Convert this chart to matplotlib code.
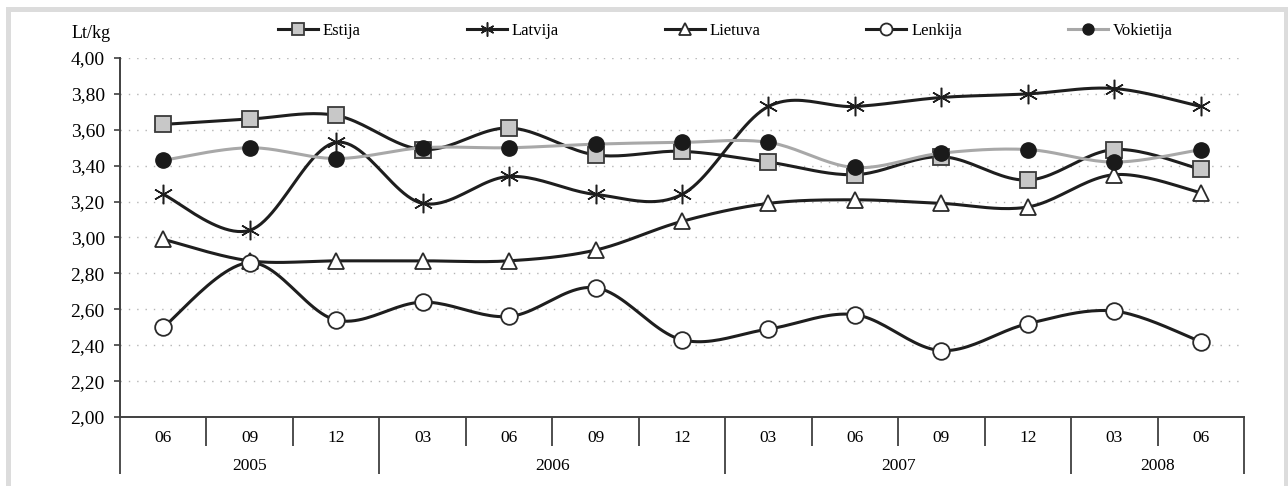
import numpy as np
import matplotlib
matplotlib.use("Agg")
import matplotlib.pyplot as plt
from matplotlib import transforms
from matplotlib.lines import Line2D
from matplotlib.patches import Rectangle

plt.rcParams['font.family'] = ['Liberation Serif', 'DejaVu Serif']

# ---- data ----
months = ['06', '09', '12', '03', '06', '09', '12', '03', '06', '09', '12', '03', '06']
year_labels = ['2005', '2006', '2007', '2008']
year_counts = [3, 4, 4, 2]

estija = [3.63, 3.66, 3.68, 3.49, 3.61, 3.46, 3.48, 3.42, 3.35, 3.45, 3.32, 3.49, 3.38]
latvija = [3.24, 3.04, 3.53, 3.19, 3.34, 3.24, 3.24, 3.73, 3.73, 3.78, 3.80, 3.83, 3.73]
lietuva = [2.99, 2.87, 2.87, 2.87, 2.87, 2.93, 3.09, 3.19, 3.21, 3.19, 3.17, 3.35, 3.25]
lenkija = [2.50, 2.86, 2.54, 2.64, 2.56, 2.72, 2.43, 2.49, 2.57, 2.37, 2.52, 2.59, 2.42]
vokietija = [3.43, 3.50, 3.44, 3.50, 3.50, 3.52, 3.53, 3.53, 3.39, 3.47, 3.49, 3.42, 3.49]

series_names = ['Estija', 'Latvija', 'Lietuva', 'Lenkija', 'Vokietija']
yticks = [2.0, 2.2, 2.4, 2.6, 2.8, 3.0, 3.2, 3.4, 3.6, 3.8, 4.0]


def smooth(xs, ys, n=24):
    P = np.column_stack([xs, ys]).astype(float)
    P = np.vstack([P[0], P, P[-1]])
    out = []
    t = np.linspace(0, 1, n)[:, None]
    for i in range(1, len(P) - 2):
        p0, p1, p2, p3 = P[i - 1], P[i], P[i + 1], P[i + 2]
        c1 = p1 + (p2 - p0) / 6.0
        c2 = p2 - (p3 - p1) / 6.0
        seg = (1 - t) ** 3 * p1 + 3 * (1 - t) ** 2 * t * c1 + 3 * (1 - t) * t ** 2 * c2 + t ** 3 * p2
        out.append(seg if i == 1 else seg[1:])
    return np.vstack(out)


W, H = 1288, 486
fig = plt.figure(figsize=(W / 100, H / 100), dpi=100)
fig.patch.set_facecolor('white')

# outer light-grey frame
fig.add_artist(Rectangle((7.5 / W, -0.2), (1286 - 7.5) / W, 1.2 - 8.5 / H,
                         transform=fig.transFigure, fill=False,
                         edgecolor='#dcdcdc', lw=3.6))

ax = fig.add_axes([120 / W, 1 - 417 / H, (1244 - 120) / W, (417 - 58) / H])
ax.set_facecolor('none')

x = np.arange(len(months))
styles = {
    'Estija': dict(color='#1e1e1e', lw=2.2, marker='s', ms=11.5, mfc='#c8c8c8', mec='#3a3a3a', mew=1.3),
    'Latvija': dict(color='#1e1e1e', lw=2.2, marker=(6, 2, 0), ms=14, mfc='none', mec='#1e1e1e', mew=1.1),
    'Lietuva': dict(color='#1e1e1e', lw=2.2, marker='^', ms=12, mfc='white', mec='#2a2a2a', mew=1.3),
    'Lenkija': dict(color='#1e1e1e', lw=2.2, marker='o', ms=12, mfc='white', mec='#2a2a2a', mew=1.3),
    'Vokietija': dict(color='#a8a8a8', lw=2.2, marker='o', ms=11, mfc='#1a1a1a', mec='#1a1a1a', mew=1.0),
}
data = [estija, latvija, lietuva, lenkija, vokietija]

z = 3
handles = []
for name, vals in zip(series_names, data):
    st = styles[name]
    curve = smooth(x, vals)
    ax.plot(curve[:, 0], curve[:, 1], color=st['color'], lw=st['lw'],
            solid_capstyle='round', zorder=z, clip_on=False)
    ax.plot(x, vals, linestyle='none', marker=st['marker'], ms=st['ms'],
            mfc=st['mfc'], mec=st['mec'], mew=st['mew'], zorder=z + 0.5, clip_on=False)
    z += 1
    handles.append(Line2D([0], [0], color=st['color'], lw=st['lw'], marker=st['marker'],
                          ms=st['ms'] * 0.72, mfc=st['mfc'], mec=st['mec'], mew=st['mew']))

ax.set_xlim(-0.5, len(months) - 0.5)
ax.set_ylim(2.0, 4.0)
ax.set_yticks(yticks)
ax.set_yticklabels([f"{v:.2f}".replace('.', ',') for v in yticks], fontsize=14)
ax.tick_params(axis='y', direction='out', length=4, width=1.2, color='#404040', pad=7)
ax.set_xticks([])
ax.yaxis.grid(True, linestyle=(0, (1, 5)), color='#b4b4b4', lw=1.0)
ax.set_axisbelow(True)
for s in ['top', 'right']:
    ax.spines[s].set_visible(False)
for s in ['left', 'bottom']:
    ax.spines[s].set_color('#404040')
    ax.spines[s].set_linewidth(1.4)

# two-level category axis
axh = 417 - 58
tr = transforms.blended_transform_factory(ax.transData, ax.transAxes)
short = 29 / axh
long_ = 57 / axh
for i, m in enumerate(months):
    ax.text(i, -21 / axh, m, transform=tr, ha='center', va='center', fontsize=12.5)
year_edges = np.concatenate([[0], np.cumsum(year_counts)]) - 0.5
for b in np.arange(len(months) + 1) - 0.5:
    is_year = np.any(np.isclose(year_edges, b))
    ax.plot([b, b], [0, -(long_ if is_year else short)], transform=tr,
            color='#404040', lw=1.3, clip_on=False, solid_capstyle='butt')
for k, yl in enumerate(year_labels):
    c = (year_edges[k] + year_edges[k + 1]) / 2
    ax.text(c, -49 / axh, yl, transform=tr, ha='center', va='center', fontsize=12.5)

fig.text(72 / W, 1 - 34 / H, 'Lt/kg', ha='left', va='center', fontsize=13)

leg = fig.legend(handles, series_names, ncol=5, loc='center left',
                 bbox_to_anchor=(278 / W, 1 - 31 / H), frameon=False,
                 fontsize=12, handlelength=2.4, handletextpad=0.3,
                 columnspacing=6.35, borderpad=0, borderaxespad=0)

fig.savefig('out.png', dpi=100)
